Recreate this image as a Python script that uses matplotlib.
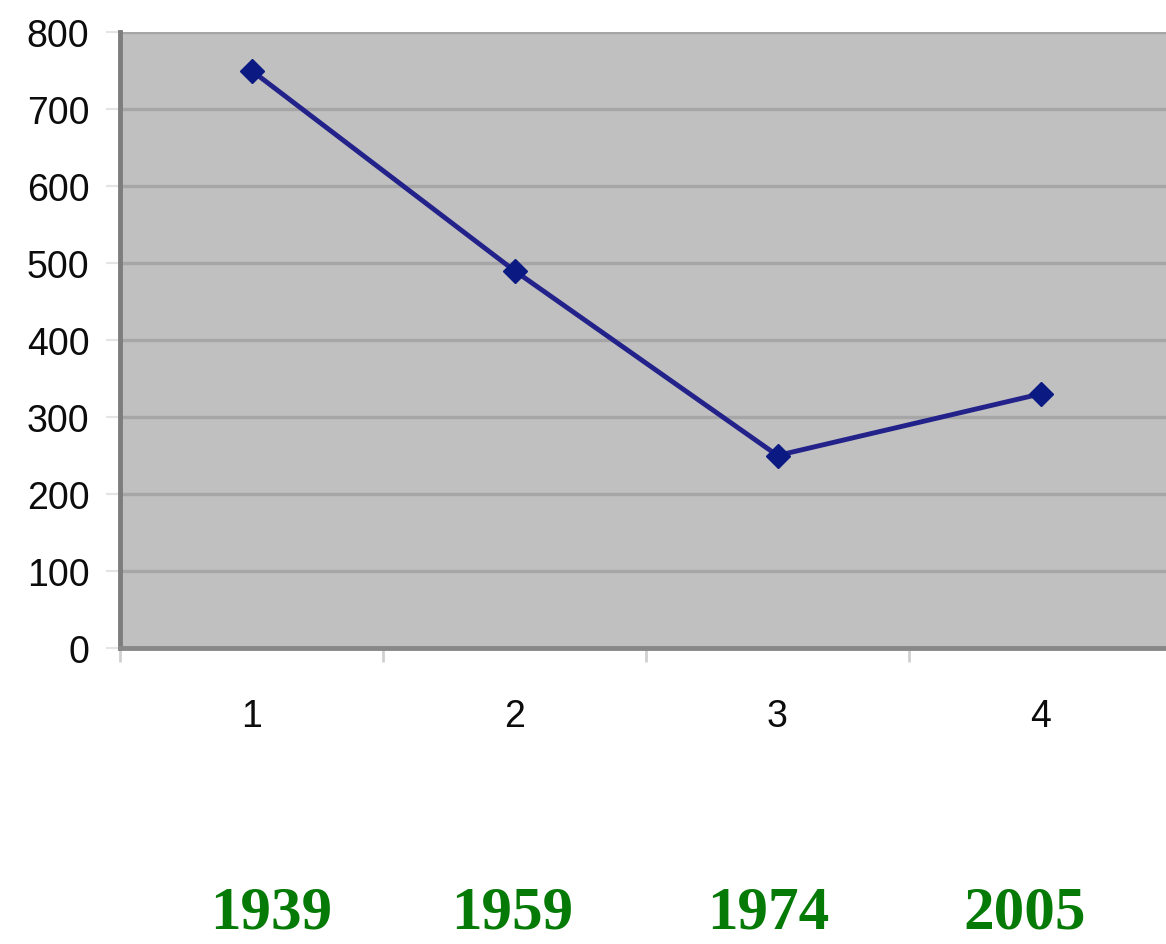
import matplotlib
matplotlib.use('Agg')
from matplotlib import pyplot as plt

# data
categories = [1, 2, 3, 4]
values = [750, 490, 250, 330]
y_ticks = [0, 100, 200, 300, 400, 500, 600, 700, 800]
year_labels = ['1939', '1959', '1974', '2005']
# horizontal centres of the year labels (figure fraction)
year_x = [0.233, 0.439, 0.659, 0.879]

fig = plt.figure(figsize=(11.66, 9.45), dpi=100)
fig.patch.set_facecolor('white')

# plot area runs a little past the right edge of the picture
ax = fig.add_axes([120 / 1166, 296 / 945, 1052 / 1166, 616 / 945])
ax.set_facecolor('#c0c0c0')

ax.plot(categories, values, color='#22228a', lw=3.5, marker='D',
        ms=12.5, mfc='#0b1a82', mec='#0b1a82', zorder=3, clip_on=False)

ax.set_xlim(0.5, 4.5)
ax.set_ylim(0, 800)
ax.set_yticks(y_ticks)
ax.set_xticks(categories)
ax.set_xticks([0.5, 1.5, 2.5, 3.5], minor=True)

ax.grid(axis='y', color='#a6a6a6', lw=2.4, zorder=1)
ax.set_axisbelow(True)

for side in ['top', 'right']:
    ax.spines[side].set_visible(False)
ax.spines['left'].set_color('#7d7d7d')
ax.spines['left'].set_linewidth(3.5)
ax.spines['bottom'].set_color('#888888')
ax.spines['bottom'].set_linewidth(3.5)

tick_font = dict(family=['Liberation Sans', 'DejaVu Sans'], size=27)
ax.tick_params(axis='y', length=10, width=1.5, color='#e4e4e4', pad=12)
ax.tick_params(axis='x', which='major', length=0, pad=36)
ax.tick_params(axis='x', which='minor', length=10, width=2, color='#d0d0d0')
for lab in ax.get_yticklabels() + ax.get_xticklabels():
    lab.set_fontfamily(tick_font['family'])
    lab.set_fontsize(tick_font['size'])
    lab.set_color('#0c0c0c')

for x, txt in zip(year_x, year_labels):
    fig.text(x, 3 / 945, txt, ha='center', va='bottom', color='#067a06',
             fontsize=44, fontweight='bold',
             family=['Liberation Serif', 'DejaVu Serif'])

fig.savefig('out.png', dpi=100)
